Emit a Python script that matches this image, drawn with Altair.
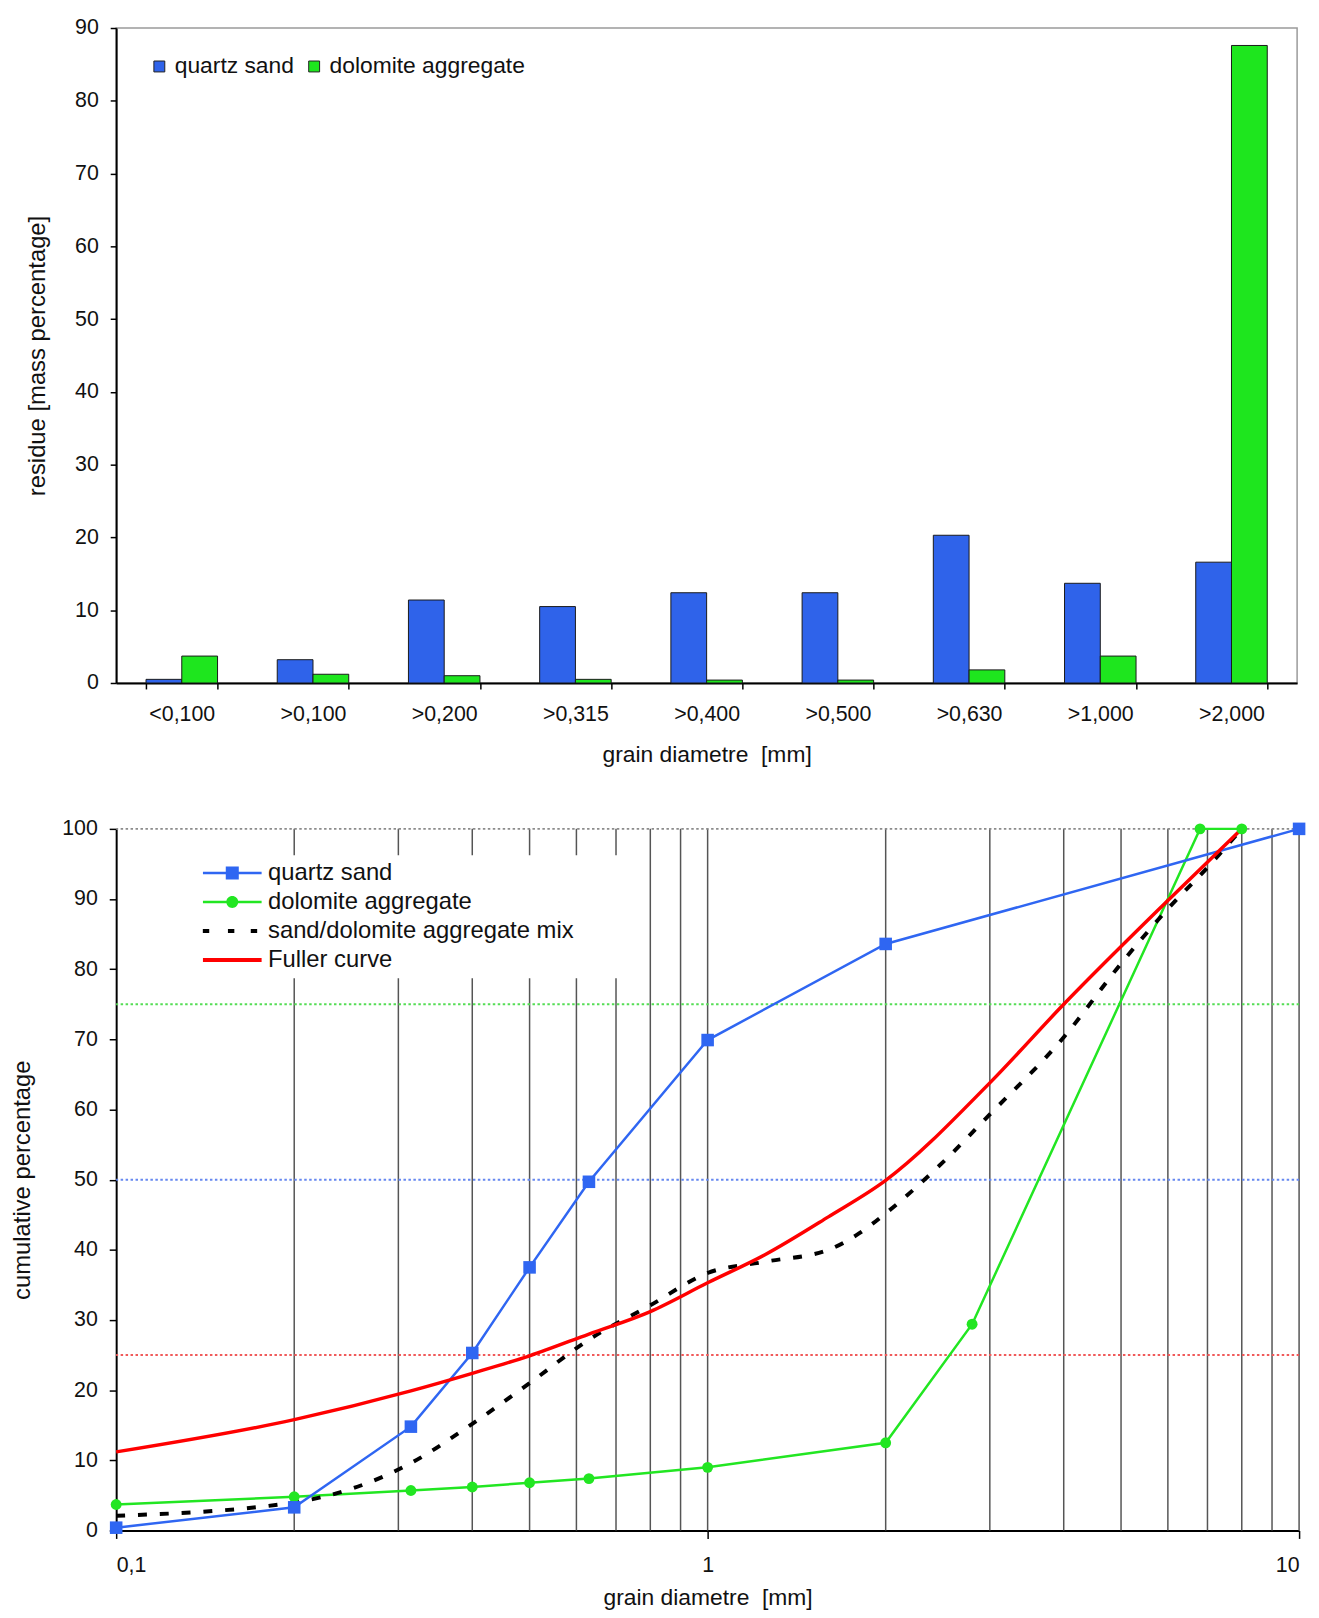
import altair as alt
import pandas as pd

# ---------------- top chart data ----------------
categories = ["<0,100", ">0,100", ">0,200", ">0,315", ">0,400", ">0,500", ">0,630", ">1,000", ">2,000"]
quartz_residue = [0.5, 3.2, 11.4, 10.5, 12.4, 12.4, 20.3, 13.7, 16.6]
dolomite_residue = [3.7, 1.2, 1.0, 0.5, 0.4, 0.4, 1.8, 3.7, 87.6]
materials = ["quartz sand", "dolomite aggregate"]
bar_colors = ["#2f63ea", "#1ee61e"]
residue_ticks = list(range(0, 91, 10))

# ---------------- bottom chart data ----------------
quartz_d = [0.1, 0.2, 0.315, 0.4, 0.5, 0.63, 1, 2, 10]
quartz_cum = [0.4, 3.3, 14.8, 25.3, 37.5, 49.7, 69.9, 83.6, 100]
dolomite_d = [0.1, 0.2, 0.315, 0.4, 0.5, 0.63, 1, 2, 2.8, 6.8, 8]
dolomite_cum = [3.7, 4.8, 5.7, 6.2, 6.8, 7.4, 9.0, 12.5, 29.4, 100, 100]
mix_d = [0.1, 0.2, 0.315, 0.4, 0.5, 0.63, 0.8, 1, 1.25, 1.6, 1.8, 2, 2.5, 3, 4, 5, 6, 7, 8]
mix_cum = [2.1, 4.0, 9.6, 15.2, 21.0, 27.2, 32.1, 36.7, 38.3, 40.0, 42.3, 45.2, 52.5, 59.3, 70.3, 80.8, 88.6, 94.5, 100]
fuller_d = [0.1, 0.2, 0.315, 0.4, 0.5, 0.63, 0.8, 1, 1.25, 1.6, 2, 3, 4, 6, 8]
fuller_cum = [11.2, 15.8, 19.9, 22.4, 24.9, 28.0, 31.2, 35.3, 39.3, 44.7, 49.9, 63.8, 75.0, 89.8, 100]

series_names = ["quartz sand", "dolomite aggregate", "sand/dolomite aggregate mix", "Fuller curve"]
series_colors = ["#2f66f2", "#22e622", "#000000", "#ff0000"]
grid_d = [0.2, 0.3, 0.4, 0.5, 0.6, 0.7, 0.8, 0.9, 1, 2, 3, 4, 5, 6, 7, 8, 9, 10]
x_tick_values = [0.1, 1, 10]
cum_ticks = list(range(0, 101, 10))
ref_levels = [100, 75, 50, 25]
ref_colors = ["#8c8c8c", "#55dd55", "#6688f0", "#f05a5a"]

# legend symbols (line with marker), unit = sqrt(size)/2 px
legend_paths = [
    "M-2.57,-0.11H2.57V0.11H-2.57Z M-0.57,-0.57H0.57V0.57H-0.57Z",
    "M-2.57,-0.11H2.57V0.11H-2.57Z M-0.52,0A0.52,0.52 0 1,1 0.52,0A0.52,0.52 0 1,1 -0.52,0Z",
    "M-2.58,-0.17H-2.02V0.17H-2.58Z M-0.38,-0.17H0.18V0.17H-0.38Z M1.62,-0.17H2.18V0.17H1.62Z",
    "M-2.57,-0.17H2.57V0.17H-2.57Z",
]

FONT = "Liberation Sans"
TXT = "#111111"

# ---------------- top chart ----------------
bars_df = pd.DataFrame({
    "category": categories * 2,
    "material": [m for m in materials for _ in categories],
    "residue": quartz_residue + dolomite_residue,
})

top = alt.Chart(bars_df).mark_bar(stroke="#1a1a1a", strokeWidth=1).encode(
    x=alt.X("category:N", sort=categories,
            scale=alt.Scale(paddingInner=0.455, paddingOuter=0.2275),
            axis=alt.Axis(title="grain diametre \u00a0[mm]", labelAngle=0, tickBand="extent",
                          tickSize=6, labelPadding=15, titlePadding=19)),
    xOffset=alt.XOffset("material:N", sort=materials, scale=alt.Scale(paddingInner=0, paddingOuter=0)),
    y=alt.Y("residue:Q", scale=alt.Scale(domain=[0, 90], nice=False),
            axis=alt.Axis(values=residue_ticks, title="residue [mass percentage]",
                          tickSize=6, labelPadding=12, titlePadding=25, titleFontSize=24)),
    color=alt.Color("material:N", sort=materials,
                    scale=alt.Scale(domain=materials, range=bar_colors),
                    legend=alt.Legend(orient="none", legendX=32, legendY=27, direction="horizontal",
                                      title=None, symbolType="square", symbolSize=121,
                                      symbolStrokeColor="#222222", symbolStrokeWidth=1,
                                      labelFontSize=23, labelFont=FONT, labelColor=TXT,
                                      labelOffset=4, columnPadding=8, padding=0, labelLimit=500)),
).properties(width=1190, height=660,
             view=alt.ViewBackground(stroke="#9a9a9a", strokeWidth=1.5))

# ---------------- bottom chart ----------------
xscale = alt.Scale(type="log", domain=[0.1, 10], nice=False)
yscale = alt.Scale(domain=[0, 100], nice=False)
xaxis = alt.Axis(values=x_tick_values, title="grain diametre \u00a0[mm]", grid=False,
                 labelExpr="replace(format(datum.value, '~g'), '.', ',')",
                 tickSize=8, labelPadding=16, titlePadding=11)
yaxis = alt.Axis(values=cum_ticks, title="cumulative percentage", grid=False,
                 tickSize=7, labelPadding=12, titlePadding=27, titleFontSize=24)


def X(field="d"):
    return alt.X(f"{field}:Q", scale=xscale, axis=xaxis)


def Y(field="p"):
    return alt.Y(f"{field}:Q", scale=yscale, axis=yaxis)


grid_df = pd.DataFrame({"d": grid_d, "lo": cum_ticks[0], "hi": cum_ticks[-1]})
grid = alt.Chart(grid_df).mark_rule(color="#555555", strokeWidth=1.5).encode(
    x=X(), y=Y("lo"), y2="hi:Q")

ref_df = pd.DataFrame({"level": ref_levels, "col": ref_colors})
refs = alt.Chart(ref_df).mark_rule(strokeWidth=2, strokeDash=[2.5, 2.5]).encode(
    y=Y("level"), color=alt.Color("col:N", scale=None))

q_df = pd.DataFrame({"d": quartz_d, "p": quartz_cum})
g_df = pd.DataFrame({"d": dolomite_d, "p": dolomite_cum})
m_df = pd.DataFrame({"d": mix_d, "p": mix_cum})
f_df = pd.DataFrame({"d": fuller_d, "p": fuller_cum})

green_line = alt.Chart(g_df).mark_line(color=series_colors[1], strokeWidth=2.5).encode(x=X(), y=Y())
blue_line = alt.Chart(q_df).mark_line(color=series_colors[0], strokeWidth=2.5).encode(x=X(), y=Y())
mix_line = alt.Chart(m_df).mark_line(color=series_colors[2], strokeWidth=4, strokeDash=[9, 13],
                                     interpolate="monotone").encode(x=X(), y=Y())
red_line = alt.Chart(f_df).mark_line(color=series_colors[3], strokeWidth=3.5,
                                     interpolate="monotone").encode(x=X(), y=Y())
green_pts = alt.Chart(g_df).mark_point(shape="circle", filled=True, size=120, opacity=1,
                                       color=series_colors[1]).encode(x=X(), y=Y())
blue_pts = alt.Chart(q_df).mark_point(shape="square", filled=True, size=160, opacity=1,
                                      color=series_colors[0]).encode(x=X(), y=Y())

leg_df = pd.DataFrame({
    "series": series_names,
    "d": [quartz_d[0], dolomite_d[0], mix_d[0], fuller_d[0]],
    "p": [quartz_cum[0], dolomite_cum[0], mix_cum[0], fuller_cum[0]],
})
leg_props = dict(orient="none", legendX=99, legendY=26.5, title="\u2002", titleOrient="right",
                 titlePadding=45, titleFontSize=10, symbolSize=529, symbolStrokeWidth=0,
                 symbolOpacity=1, labelFontSize=24, labelFont=FONT, labelColor=TXT,
                 labelOffset=24, rowPadding=5.2, padding=6, fillColor="white", labelLimit=500)
legend_layer = alt.Chart(leg_df).mark_point(filled=True, opacity=0).encode(
    x=X(), y=Y(),
    color=alt.Color("series:N", sort=series_names,
                    scale=alt.Scale(domain=series_names, range=series_colors),
                    legend=alt.Legend(**leg_props)),
    shape=alt.Shape("series:N", sort=series_names,
                    scale=alt.Scale(domain=series_names, range=legend_paths),
                    legend=alt.Legend(**leg_props)),
)

bottom = alt.layer(grid, refs, green_line, blue_line, mix_line, red_line, green_pts, blue_pts,
                   legend_layer).properties(width=1192, height=707)

chart = alt.vconcat(top, bottom, spacing=49).resolve_scale(
    color="independent", shape="independent"
).resolve_legend(
    color="independent", shape="independent"
).properties(
    padding={"left": 2, "top": 2, "right": 5, "bottom": 0}
).configure_view(stroke="transparent").configure_axis(
    domainColor="#000000", domainWidth=2, tickColor="#000000", tickWidth=1.5,
    labelFont=FONT, labelFontSize=21.5, labelColor=TXT,
    titleFont=FONT, titleFontSize=23, titleFontWeight="normal", titleColor=TXT, grid=False,
).configure_legend(labelFont=FONT, labelColor=TXT)

chart.save("out.html", embed_options={"renderer": "svg", "actions": False})
